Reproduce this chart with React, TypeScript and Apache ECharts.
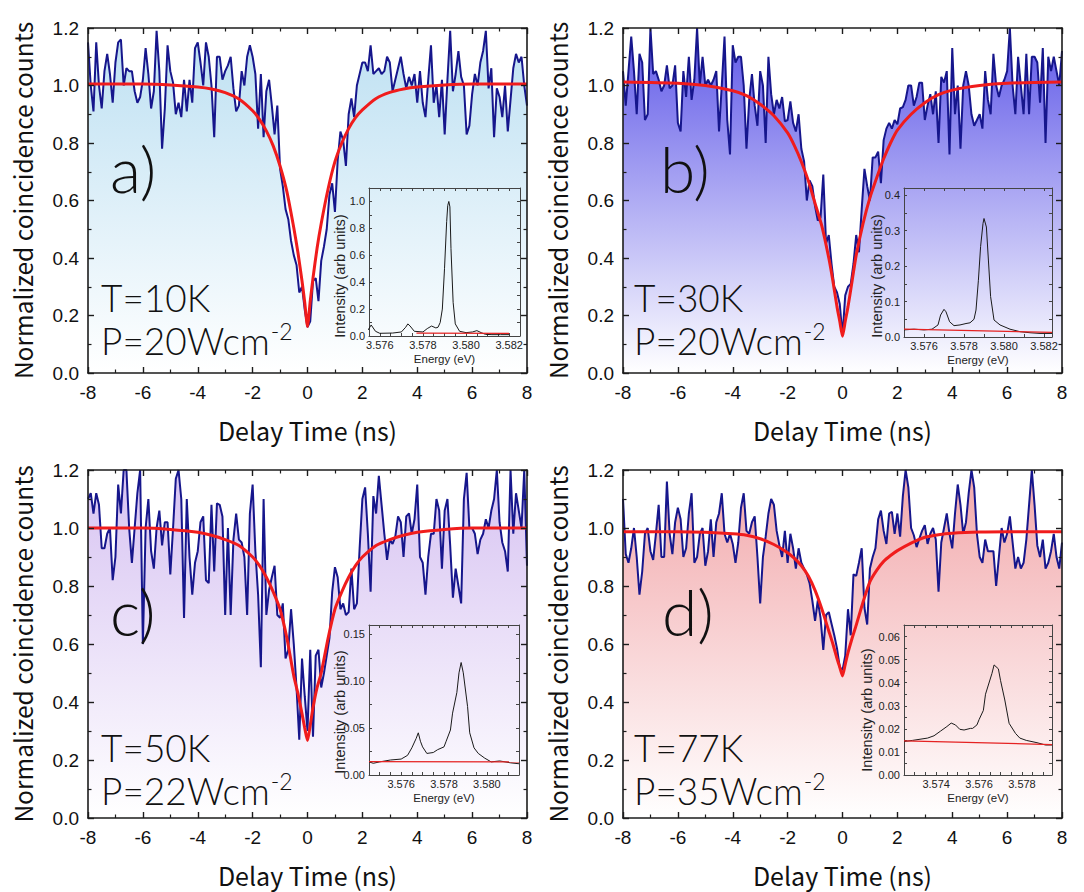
import React, { useEffect, useRef } from "react";
import * as echarts from "echarts";

// ---------- data ----------
const DELAY_NS: number[] = Array.from({ length: 161 }, (_, i) => Math.round((-8 + i * 0.1) * 10) / 10);

const COUNTS_A = [
  1.15, 1.0, 0.91, 1.15, 1.0, 0.92, 1.05, 1.11, 1.04, 0.94,
  1.08, 1.15, 1.16, 1.0, 1.06, 1.05, 1.05, 0.98, 0.94, 0.96,
  1.02, 1.13, 1.04, 0.92, 0.98, 1.19, 1.05, 0.78, 0.92, 1.14,
  1.05, 1.01, 0.9, 0.94, 0.89, 1.02, 0.91, 1.02, 0.94,
  1.13, 1.15, 1.08, 1.0, 1.15, 1.1, 1.0, 0.82, 1.1, 1.1,
  1.02, 1.05, 1.07, 1.1, 0.99, 0.91, 0.93, 1.05, 1.0, 1.1,
  1.14, 1.1, 1.04, 0.85, 1.04, 0.82, 0.98, 1.02, 0.93, 0.83,
  0.93, 0.71, 0.65, 0.57, 0.535, 0.46, 0.41, 0.376, 0.28, 0.3,
  0.22, 0.16, 0.18, 0.32, 0.33, 0.25, 0.39, 0.44, 0.5, 0.62,
  0.66, 0.56, 0.74, 0.84, 0.81, 0.72, 0.9, 0.955, 0.89, 1.0,
  1.04, 1.08, 1.08, 1.05, 1.14, 1.04, 1.05, 1.06, 1.04, 1.05,
  1.1, 1.08, 0.98, 1.02, 1.06, 1.1, 1.04, 0.99, 1.03,
  1.0, 1.04, 0.94, 1.05, 0.94, 0.89, 1.02, 1.14, 0.94, 1.0,
  0.89, 1.02, 0.83, 1.02, 1.19, 0.98, 1.04, 1.12, 1.03, 1.0,
  0.83, 0.86, 0.97, 1.04, 1.0, 1.08, 1.12, 1.19, 0.99, 1.06,
  0.82, 0.99, 0.96, 0.89, 1.0, 0.84, 0.95, 1.06, 1.11, 1.08,
  1.1, 1.0, 0.93,
];

const COUNTS_B = [
  1.05, 0.93, 1.05, 1.17, 1.05, 0.9, 1.11, 1.08, 0.88, 0.9,
  1.2, 1.04, 1.05, 1.02, 0.98, 1.0, 1.07, 0.99, 1.0, 1.07,
  0.87, 0.84, 1.05, 0.96, 1.1, 0.95, 1.02, 1.2, 1.0, 1.1,
  1.0, 1.02, 1.0, 1.02, 1.05, 0.84, 1.0, 1.17, 0.88,
  0.76, 1.14, 1.08, 1.1, 1.1, 1.0, 0.78, 0.95, 1.04, 0.93,
  0.86, 1.05, 1.0, 0.8, 1.1, 0.97, 0.9, 0.95, 0.92, 0.96,
  0.875, 0.88, 0.945, 0.87, 0.84, 0.9, 0.78, 0.736, 0.6, 0.67,
  0.65, 0.58, 0.53, 0.54, 0.69, 0.45, 0.48, 0.38, 0.3, 0.28,
  0.24, 0.13, 0.27, 0.3, 0.31, 0.38, 0.48, 0.42, 0.57, 0.71,
  0.65, 0.6, 0.75, 0.75, 0.77, 0.66, 0.81, 0.85, 0.87, 0.85,
  0.88, 0.865, 0.92, 0.925, 0.95, 1.0, 1.0, 0.93, 0.96, 1.01,
  1.01, 0.88, 0.93, 0.97, 0.9, 0.98, 0.8, 1.03, 1.01,
  1.05, 0.76, 1.13, 0.9, 1.0, 0.78, 1.0, 1.05, 1.0, 0.9,
  0.86, 0.88, 0.9, 0.85, 1.05, 0.95, 0.9, 1.11, 1.0, 0.96,
  1.0, 1.02, 1.05, 1.2, 1.0, 0.9, 1.1, 1.0, 0.9, 1.11,
  0.9, 1.1, 1.1, 1.08, 0.94, 1.13, 0.8, 1.1, 1.05, 1.1,
  1.05, 1.0, 1.12,
];

const COUNTS_C = [
  1.1, 1.12, 1.05, 1.12, 1.08, 0.93, 0.93, 0.98, 1.0, 0.82,
  0.9, 1.15, 1.05, 1.2, 1.2, 1.0, 0.88, 1.0, 1.12, 1.2,
  0.6, 1.0, 1.1, 0.92, 0.86, 1.0, 1.06, 0.94, 1.02, 1.02,
  0.84, 1.0, 1.17, 1.2, 1.1, 0.69, 1.1, 0.9, 0.77,
  0.88, 0.92, 1.02, 1.04, 0.82, 0.81, 1.08, 0.85, 1.085, 1.08,
  1.04, 0.7, 1.0, 0.7, 0.96, 1.05, 0.96, 0.95, 0.9, 0.7,
  1.05, 1.15, 0.92, 0.77, 0.52, 1.1, 0.7, 0.786, 0.83, 0.87,
  0.7, 0.69, 0.74, 0.55, 0.58, 0.72, 0.6, 0.45, 0.27, 0.55,
  0.42, 0.3, 0.58, 0.28, 0.56, 0.58, 0.45, 0.5, 0.56, 0.62,
  0.78, 0.865, 0.83, 0.72, 0.74, 0.7, 0.71, 0.86, 0.72, 0.74,
  0.93, 1.1, 1.14, 0.98, 0.78, 1.11, 1.05, 1.18, 1.08, 0.98,
  0.89, 0.96, 0.945, 0.97, 1.04, 1.02, 0.9, 1.04, 1.05,
  0.98, 1.03, 1.15, 0.9, 0.88, 0.77, 0.9, 0.98, 0.98, 1.1,
  1.06, 0.86, 1.06, 1.1, 0.94, 0.76, 0.86, 0.8, 0.74, 1.1,
  1.19, 1.0, 1.0, 0.98, 0.91, 0.96, 0.98, 1.03, 1.0, 1.06,
  1.1, 1.2, 1.02, 0.95, 0.92, 0.85, 1.2, 0.98, 1.12, 1.06,
  1.0, 1.2, 0.87,
];

const COUNTS_D = [
  1.1, 0.91, 0.88, 0.93, 1.0, 0.9, 0.77, 0.85, 0.98, 1.0,
  0.92, 0.89, 0.98, 1.08, 0.9, 0.9, 1.16, 0.98, 0.91, 1.02,
  1.07, 1.03, 0.9, 0.93, 1.05, 1.12, 0.88, 0.9, 0.98, 1.0,
  0.87, 0.92, 1.03, 0.9, 1.02, 1.05, 1.12, 0.98, 0.95,
  0.98, 0.945, 0.88, 0.95, 1.07, 1.12, 0.99, 0.98, 1.02, 1.04,
  0.9, 0.74, 0.9, 0.97, 1.05, 1.1, 1.08, 0.99, 0.94, 0.9,
  0.99, 0.88, 0.98, 0.93, 0.86, 0.93, 0.88, 0.86, 0.84, 0.81,
  0.75, 0.68, 0.75, 0.69, 0.58, 0.7, 0.71, 0.67, 0.63, 0.585,
  0.52, 0.51, 0.56, 0.72, 0.63, 0.84, 0.835, 0.88, 0.93, 0.725,
  0.667, 0.86, 0.9, 0.93, 1.03, 1.06, 0.99, 0.945, 1.05, 1.056,
  0.98, 1.05, 0.97, 1.11, 1.2, 1.14, 1.0, 0.975, 0.934, 0.963,
  0.99, 1.01, 0.945, 0.98, 1.0, 0.96, 0.78, 0.95, 1.0,
  1.05, 0.98, 0.93, 1.05, 1.15, 1.08, 0.98, 1.02, 1.12, 1.2,
  1.14, 0.98, 0.9, 0.88, 0.96, 0.92, 0.92, 0.92, 0.8, 0.9,
  1.0, 0.95, 0.98, 1.04, 0.95, 0.86, 0.9, 0.86, 0.88, 0.96,
  1.08, 1.2, 1.08, 0.94, 0.9, 0.96, 0.86, 0.88, 0.92, 0.98,
  0.9, 0.86, 0.95,
];

// red fit curves
const FIT_T = [-8, -6, -5, -4, -3.5, -3, -2.5, -2, -1.75, -1.5, -1.25, -1, -0.75, -0.5, -0.35, -0.2, -0.1, 0,
  0.1, 0.2, 0.35, 0.5, 0.75, 1, 1.25, 1.5, 1.75, 2, 2.5, 3, 3.5, 4, 5, 6, 8];
const FIT_A = [1.005, 1.005, 1.002, 0.995, 0.988, 0.975, 0.953, 0.912, 0.882, 0.842, 0.79, 0.72, 0.63, 0.505, 0.42, 0.32, 0.245, 0.162,
  0.25, 0.33, 0.435, 0.52, 0.64, 0.735, 0.8, 0.85, 0.888, 0.915, 0.955, 0.976, 0.988, 0.995, 1.002, 1.005, 1.005];
const FIT_B = [1.012, 1.008, 1.0, 0.982, 0.965, 0.935, 0.895, 0.835, 0.79, 0.735, 0.67, 0.59, 0.51, 0.4, 0.32, 0.23, 0.18, 0.128,
  0.18, 0.23, 0.32, 0.41, 0.52, 0.61, 0.68, 0.745, 0.8, 0.845, 0.9, 0.94, 0.968, 0.984, 1.0, 1.008, 1.012];
const FIT_C = [1.0, 1.0, 0.995, 0.985, 0.975, 0.96, 0.94, 0.9, 0.87, 0.83, 0.78, 0.72, 0.62, 0.49, 0.43, 0.36, 0.31, 0.267,
  0.32, 0.38, 0.45, 0.5, 0.62, 0.72, 0.78, 0.83, 0.87, 0.9, 0.94, 0.96, 0.975, 0.985, 0.995, 1.0, 1.0];
const FIT_D = [0.987, 0.987, 0.985, 0.98, 0.975, 0.963, 0.943, 0.915, 0.895, 0.87, 0.835, 0.785, 0.72, 0.645, 0.6, 0.55, 0.52, 0.49,
  0.53, 0.57, 0.62, 0.665, 0.745, 0.815, 0.855, 0.885, 0.905, 0.922, 0.948, 0.968, 0.977, 0.982, 0.986, 0.987, 0.987];

// inset spectra
const SPEC_E_A = [3.57546, 3.5756, 3.5758, 3.576, 3.5766, 3.577, 3.5772, 3.5773, 3.5774, 3.5776, 3.578, 3.5782, 3.5784, 3.5786,
  3.5787, 3.5788, 3.5789, 3.579, 3.5791, 3.57915, 3.5792, 3.57925, 3.5793, 3.5794, 3.5795, 3.5797, 3.58, 3.5803, 3.5805,
  3.5807, 3.5809, 3.5812, 3.5816, 3.582];
const SPEC_I_A = [0.045, 0.082, 0.035, 0.02, 0.022, 0.03, 0.065, 0.09, 0.075, 0.035, 0.03, 0.055, 0.074, 0.06,
  0.065, 0.1, 0.2, 0.5, 0.85, 0.97, 1.0, 0.96, 0.65, 0.25, 0.09, 0.035, 0.025, 0.03, 0.04,
  0.025, 0.012, 0.01, 0.01, 0.01];
const BASE_E_A = [3.5777, 3.582];
const BASE_I_A = [0.022, 0.02];

const SPEC_E_B = [3.575, 3.5755, 3.576, 3.5764, 3.5767, 3.57683, 3.577, 3.5771, 3.57728, 3.5775, 3.5778, 3.5781, 3.5783,
  3.5785, 3.5786, 3.57872, 3.57883, 3.57895, 3.579, 3.57912, 3.57922, 3.57933, 3.5795, 3.5798, 3.5803, 3.5808, 3.5813,
  3.5818, 3.5824];
const SPEC_I_B = [0.02, 0.022, 0.02, 0.022, 0.034, 0.062, 0.078, 0.071, 0.043, 0.032, 0.034, 0.038, 0.04,
  0.05, 0.076, 0.16, 0.255, 0.32, 0.334, 0.31, 0.217, 0.114, 0.048, 0.034, 0.022, 0.015, 0.012,
  0.01, 0.01];
const BASE_E_B = [3.575, 3.5824];
const BASE_I_B = [0.022, 0.013];

const SPEC_E_C = [3.5745, 3.5747, 3.575, 3.5755, 3.576, 3.5763, 3.5765, 3.5767, 3.5768, 3.5769, 3.577, 3.5772, 3.5775,
  3.5777, 3.578, 3.5781, 3.5783, 3.5784, 3.5786, 3.5787, 3.5788, 3.5789, 3.5791, 3.5792, 3.5794, 3.5796, 3.5799, 3.5802,
  3.5806, 3.5811, 3.5815];
const SPEC_I_C = [0.014, 0.0125, 0.014, 0.016, 0.017, 0.021, 0.029, 0.039, 0.045, 0.036, 0.03, 0.023, 0.024,
  0.027, 0.03, 0.036, 0.048, 0.066, 0.088, 0.109, 0.12, 0.109, 0.073, 0.045, 0.029, 0.023, 0.018, 0.014,
  0.015, 0.013, 0.012];
const BASE_E_C = [3.5745, 3.5815];
const BASE_I_C = [0.0143, 0.014];

const SPEC_E_D = [3.5725, 3.5729, 3.5736, 3.5739, 3.5742, 3.5745, 3.5747, 3.5749, 3.5751, 3.5753, 3.5756, 3.5757, 3.5759,
  3.576, 3.5762, 3.5763, 3.5766, 3.5767, 3.5769, 3.577, 3.5772, 3.5774, 3.5777, 3.5779, 3.5782, 3.5787, 3.5791, 3.5794];
const SPEC_I_D = [0.0145, 0.015, 0.016, 0.017, 0.019, 0.021, 0.0225, 0.0217, 0.0198, 0.0195, 0.0202, 0.0202, 0.0217,
  0.024, 0.028, 0.035, 0.044, 0.0477, 0.046, 0.041, 0.0325, 0.0224, 0.018, 0.016, 0.015, 0.014, 0.013, 0.013];
const BASE_E_D = [3.5725, 3.5794];
const BASE_I_D = [0.0148, 0.0132];

// inset tick labels
const E_LABELS_A = [3.576, 3.578, 3.58, 3.582];
const I_LABELS_A = [0, 0.2, 0.4, 0.6, 0.8, 1.0];
const E_LABELS_B = [3.576, 3.578, 3.58, 3.582];
const I_LABELS_B = [0, 0.1, 0.2, 0.3, 0.4];
const E_LABELS_C = [3.576, 3.578, 3.58];
const I_LABELS_C = [0, 0.05, 0.1, 0.15];
const E_LABELS_D = [3.574, 3.576, 3.578];
const I_LABELS_D = [0, 0.01, 0.02, 0.03, 0.04, 0.05, 0.06];

const PANEL_LETTERS = ["a)", "b)", "c)", "d)"];
const TEMPS = ["T=10K", "T=30K", "T=50K", "T=77K"];
const POWERS = ["P=20Wcm", "P=20Wcm", "P=22Wcm", "P=35Wcm"];
const POWER_EXP = "-2";
const INSET_Y_NAME = "Intensity (arb units)";
const INSET_X_NAME = "Energy (eV)";

// ---------- panel assembly ----------
const PANELS = [
  { counts: COUNTS_A, fit: FIT_A, specE: SPEC_E_A, specI: SPEC_I_A, baseE: BASE_E_A, baseI: BASE_I_A,
    eMin: 3.5755, eMax: 3.5825, eStep: 0.0005, eLabels: E_LABELS_A, iMax: 1.1, iStep: 0.1, iLabels: I_LABELS_A, iDigits: 1 },
  { counts: COUNTS_B, fit: FIT_B, specE: SPEC_E_B, specI: SPEC_I_B, baseE: BASE_E_B, baseI: BASE_I_B,
    eMin: 3.575, eMax: 3.5824, eStep: 0.001, eLabels: E_LABELS_B, iMax: 0.42, iStep: 0.05, iLabels: I_LABELS_B, iDigits: 1 },
  { counts: COUNTS_C, fit: FIT_C, specE: SPEC_E_C, specI: SPEC_I_C, baseE: BASE_E_C, baseI: BASE_I_C,
    eMin: 3.5745, eMax: 3.5815, eStep: 0.0005, eLabels: E_LABELS_C, iMax: 0.16, iStep: 0.025, iLabels: I_LABELS_C, iDigits: 2 },
  { counts: COUNTS_D, fit: FIT_D, specE: SPEC_E_D, specI: SPEC_I_D, baseE: BASE_E_D, baseI: BASE_I_D,
    eMin: 3.5725, eMax: 3.5794, eStep: 0.0005, eLabels: E_LABELS_D, iMax: 0.065, iStep: 0.005, iLabels: I_LABELS_D, iDigits: 2 },
];

const LAYOUT = [
  { grid: { left: 88, top: 28, width: 439, height: 345 }, inset: { left: 369, top: 188, width: 151, height: 148 },
    fill: "#bde0f2", textX: 101, letterX: 110, letterY: 168, tY: 297, pY: 340, supY: 331, nameX: 340, nameY: 276 },
  { grid: { left: 623, top: 28, width: 439, height: 345 }, inset: { left: 904, top: 188, width: 148, height: 149 },
    fill: "#5f58e8", textX: 634, letterX: 660, letterY: 168, tY: 297, pY: 340, supY: 331, nameX: 877, nameY: 276 },
  { grid: { left: 88, top: 470, width: 439, height: 348 }, inset: { left: 369, top: 625, width: 150, height: 150 },
    fill: "#d7c3f2", textX: 101, letterX: 110, letterY: 611, tY: 747, pY: 790, supY: 781, nameX: 340, nameY: 712 },
  { grid: { left: 623, top: 470, width: 439, height: 348 }, inset: { left: 904, top: 625, width: 148, height: 150 },
    fill: "#f2a8ab", textX: 634, letterX: 662, letterY: 611, tY: 747, pY: 790, supY: 781, nameX: 867, nameY: 710 },
];

const AX = "#1c1c1c";
const TICK_FONT = "'Liberation Sans', Arial, Helvetica, sans-serif";
const NAME_FONT = "'Noto Sans CJK JP', 'Noto Sans', sans-serif";
const BIG_FONT = "Lato, Roboto, 'Liberation Sans', Arial, sans-serif";

const isIn = (list: number[], v: number) => list.some((l) => Math.abs(l - v) < 1e-7);

function mainX(gridIndex: number, pos: "bottom" | "top") {
  const bottom = pos === "bottom";
  return {
    type: "value", gridIndex, position: pos, min: -8, max: 8, interval: 2, z: 6,
    axisLine: { show: true, onZero: false, lineStyle: { color: AX, width: 1.6 } },
    axisTick: { show: true, inside: true, length: 6, lineStyle: { color: AX, width: 1.4 } },
    minorTick: { show: true, splitNumber: 2, length: 3.5, lineStyle: { color: AX, width: 1.2 } },
    splitLine: { show: false }, minorSplitLine: { show: false },
    axisLabel: { show: bottom, fontSize: 19, color: "#111", margin: 10, fontFamily: TICK_FONT },
    name: bottom ? "Delay Time (ns)" : "", nameLocation: "middle", nameGap: 44,
    nameTextStyle: { fontSize: 25, color: "#111", fontFamily: NAME_FONT, fontWeight: 400 },
  };
}

function mainY(gridIndex: number, pos: "left" | "right") {
  const left = pos === "left";
  return {
    type: "value", gridIndex, position: pos, min: 0, max: 1.2, interval: 0.2, z: 6,
    axisLine: { show: true, onZero: false, lineStyle: { color: AX, width: 1.6 } },
    axisTick: { show: true, inside: true, length: 6, lineStyle: { color: AX, width: 1.4 } },
    minorTick: { show: true, splitNumber: 2, length: 3.5, lineStyle: { color: AX, width: 1.2 } },
    splitLine: { show: false }, minorSplitLine: { show: false },
    axisLabel: { show: left, fontSize: 19, color: "#111", margin: 9, fontFamily: TICK_FONT,
      formatter: (v: number) => v.toFixed(1) },
    name: left ? "Normalized coincidence counts" : "", nameLocation: "middle", nameGap: 53, nameRotate: 90,
    nameTextStyle: { fontSize: 24.5, color: "#111", fontFamily: NAME_FONT, fontWeight: 400 },
  };
}

function insetX(gridIndex: number, p: any, pos: "bottom" | "top") {
  const bottom = pos === "bottom";
  return {
    type: "value", gridIndex, position: pos, min: p.eMin, max: p.eMax, interval: p.eStep, z: 8,
    axisLine: { show: true, onZero: false, lineStyle: { color: "#444", width: 1 } },
    axisTick: { show: true, inside: true, length: 3, lineStyle: { color: "#444", width: 1 } },
    splitLine: { show: false },
    axisLabel: { show: bottom, fontSize: 11, color: "#222", margin: 3, fontFamily: TICK_FONT,
      formatter: (v: number) => (isIn(p.eLabels, v) ? v.toFixed(3) : "") },
    name: bottom ? INSET_X_NAME : "", nameLocation: "middle", nameGap: 17,
    nameTextStyle: { fontSize: 11.5, color: "#222", fontFamily: TICK_FONT },
  };
}

function insetY(gridIndex: number, p: any, pos: "left" | "right") {
  const left = pos === "left";
  return {
    type: "value", gridIndex, position: pos, min: 0, max: p.iMax, interval: p.iStep, z: 8,
    axisLine: { show: true, onZero: false, lineStyle: { color: "#444", width: 1 } },
    axisTick: { show: true, inside: true, length: 3, lineStyle: { color: "#444", width: 1 } },
    splitLine: { show: false },
    axisLabel: { show: left, fontSize: 11, color: "#222", margin: 4, fontFamily: TICK_FONT,
      formatter: (v: number) => (isIn(p.iLabels, v) ? v.toFixed(p.iDigits) : "") },
  };
}

function buildOption() {
  const grid: any[] = [];
  const xAxis: any[] = [];
  const yAxis: any[] = [];
  const series: any[] = [];
  const graphic: any[] = [];
  const ctx = document.createElement("canvas").getContext("2d")!;

  PANELS.forEach((p, k) => {
    const L = LAYOUT[k];
    const gMain = grid.length;
    grid.push({ ...L.grid });
    const gIn = grid.length;
    grid.push({ ...L.inset });

    const xMain = xAxis.length;
    xAxis.push(mainX(gMain, "bottom"), mainX(gMain, "top"));
    const xIn = xAxis.length;
    xAxis.push(insetX(gIn, p, "bottom"), insetX(gIn, p, "top"));
    const yMain = yAxis.length;
    yAxis.push(mainY(gMain, "left"), mainY(gMain, "right"));
    const yIn = yAxis.length;
    yAxis.push(insetY(gIn, p, "left"), insetY(gIn, p, "right"));

    series.push({
      type: "line", xAxisIndex: xMain, yAxisIndex: yMain,
      data: DELAY_NS.map((t, i) => [t, p.counts[i]]),
      showSymbol: false, symbol: "none",
      lineStyle: { color: "#16168c", width: 2 },
      areaStyle: {
        opacity: 1,
        color: new echarts.graphic.LinearGradient(0, 0, 0, 1, [
          { offset: 0, color: L.fill },
          { offset: 1, color: "#ffffff" },
        ]),
      },
      z: 2,
    });
    series.push({
      type: "line", xAxisIndex: xMain, yAxisIndex: yMain,
      data: FIT_T.map((t, i) => [t, p.fit[i]]),
      showSymbol: false, symbol: "none", smooth: 0.2,
      lineStyle: { color: "#f01c1c", width: 3 },
      z: 3,
    });
    series.push({
      type: "line", xAxisIndex: xIn, yAxisIndex: yIn,
      data: p.specE.map((e: number, i: number) => [e, p.specI[i]]),
      showSymbol: false, symbol: "none",
      lineStyle: { color: "#1a1a1a", width: 1 },
      z: 9,
    });
    series.push({
      type: "line", xAxisIndex: xIn, yAxisIndex: yIn,
      data: p.baseE.map((e: number, i: number) => [e, p.baseI[i]]),
      showSymbol: false, symbol: "none",
      lineStyle: { color: "#e52222", width: 1.2 },
      z: 9,
    });

    const txt = (text: string, x: number, y: number, size: number) => ({
      type: "text", x, y, z: 10,
      style: { text, fontSize: size, fontWeight: 300, fontFamily: BIG_FONT, fill: "#111",
        align: "left", verticalAlign: "middle", textAlign: "left", textVerticalAlign: "middle" },
    });
    graphic.push(txt(PANEL_LETTERS[k], L.letterX, L.letterY, 64));
    graphic.push(txt(TEMPS[k], L.textX, L.tY, 37));
    graphic.push(txt(POWERS[k], L.textX, L.pY, 37));
    ctx.font = `300 37px ${BIG_FONT}`;
    const w = ctx.measureText(POWERS[k]).width;
    graphic.push(txt(POWER_EXP, L.textX + w + 1, L.supY, 23));
    graphic.push({
      type: "text", x: L.nameX, y: L.nameY, rotation: Math.PI / 2, z: 10,
      style: { text: INSET_Y_NAME, fontSize: 14.5, fontFamily: TICK_FONT, fill: "#222",
        align: "center", verticalAlign: "middle", textAlign: "center", textVerticalAlign: "middle" },
    });
  });

  return { animation: false, backgroundColor: "#ffffff", grid, xAxis, yAxis, series, graphic };
}

export default function App() {
  const ref = useRef<HTMLDivElement>(null);
  useEffect(() => {
    document.body.style.margin = "0";
    const chart = echarts.init(ref.current!, null, { renderer: "svg" });
    chart.setOption(buildOption() as any);
    return () => chart.dispose();
  }, []);
  return <div ref={ref} style={{ width: 1084, height: 892 }} />;
}
